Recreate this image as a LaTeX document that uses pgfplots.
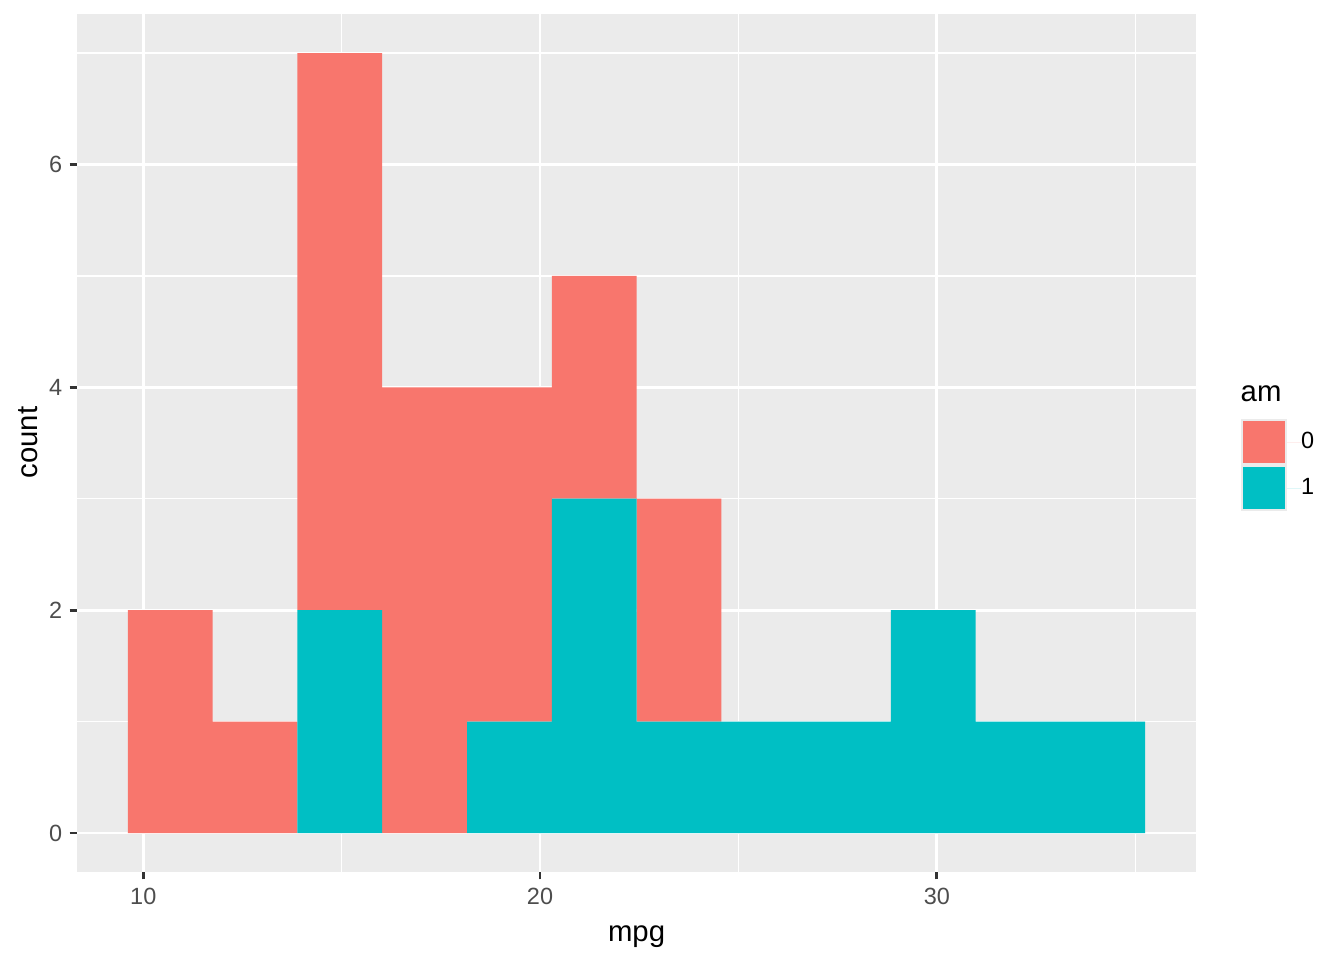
\documentclass[border=0pt]{standalone}
\usepackage{fontspec}
\setmainfont{Liberation Sans}
\usepackage{pgfplots}
\pgfplotsset{compat=1.18}
\definecolor{ggred}{HTML}{F8766D}
\definecolor{ggteal}{HTML}{00BFC4}
\definecolor{panel}{HTML}{EBEBEB}
\definecolor{gray30}{HTML}{4D4D4D}
\definecolor{gray20}{HTML}{333333}
\begin{document}
\begin{tikzpicture}
\path[use as bounding box] (0,0) rectangle (504pt,360pt);
\begin{axis}[
  at={(28.9pt,33pt)}, anchor=south west,
  width=419.6pt, height=321.75pt, scale only axis,
  xmin=8.3318, xmax=36.5318, ymin=-0.35, ymax=7.35,
  clip=false,
  axis background/.style={fill=panel},
  axis line style={draw=none},
  xtick={10,20,30}, ytick={0,2,4,6},
  minor xtick={15,25,35}, minor ytick={1,3,5,7},
  grid=both,
  major grid style={white, line width=1.07pt},
  minor grid style={white, line width=0.53pt},
  minor tick length=0pt,
  major tick length=2.75pt, tick align=outside,
  tick style={gray20, line width=1.07pt},
  xtick pos=bottom, ytick pos=left,
  /pgf/number format/assume math mode=true,
  ticklabel style={font=\fontsize{8.8}{10}\selectfont, text=gray30},
  xticklabel style={inner sep=0pt, yshift=-3pt, anchor=north},
  yticklabel style={inner sep=0pt, xshift=-2.6pt, anchor=east},
  xlabel={mpg}, ylabel={count},
  label style={font=\fontsize{11}{13}\selectfont},
  xlabel style={at={(axis description cs:0.5,-0.0757)}, anchor=center},
  ylabel style={at={(axis description cs:-0.0438,0.5004)}, anchor=center},
  ybar stacked, bar width=2.13636,
  reverse legend,
  legend cell align=left,
  legend style={draw=none, fill=none, at={(1.0403,0.528)}, anchor=north west,
    inner sep=0pt, outer sep=0pt, row sep=0pt,
    font=\fontsize{8.8}{10}\selectfont,
    nodes={inner sep=0pt, outer sep=0pt}},
  legend image code/.code={
    \path (0pt,0pt) -- (22.5pt,0pt);
    \fill[panel] (0pt,-8.64pt) rectangle (17.28pt,8.64pt);
    \fill[#1] (0.75pt,-7.89pt) rectangle (16.53pt,7.89pt);},
]
\addplot[fill=ggteal, draw=none] coordinates {
  (10.6818,0) (12.8182,0) (14.9545,2) (17.0909,0) (19.2273,1) (21.3636,3)
  (23.5,1) (25.6364,1) (27.7727,1) (29.9091,2) (32.0455,1) (34.1818,1)};
\addlegendentry{1}
\addplot[fill=ggred, draw=none] coordinates {
  (10.6818,2) (12.8182,1) (14.9545,5) (17.0909,4) (19.2273,3) (21.3636,2)
  (23.5,2) (25.6364,0) (27.7727,0) (29.9091,0) (32.0455,0) (34.1818,0)};
\addlegendentry{0}
\node[anchor=base west, font=\fontsize{11}{13}\selectfont, inner sep=0pt]
  at (axis description cs:1.0395,0.548) {am};
\end{axis}
\end{tikzpicture}
\end{document}
